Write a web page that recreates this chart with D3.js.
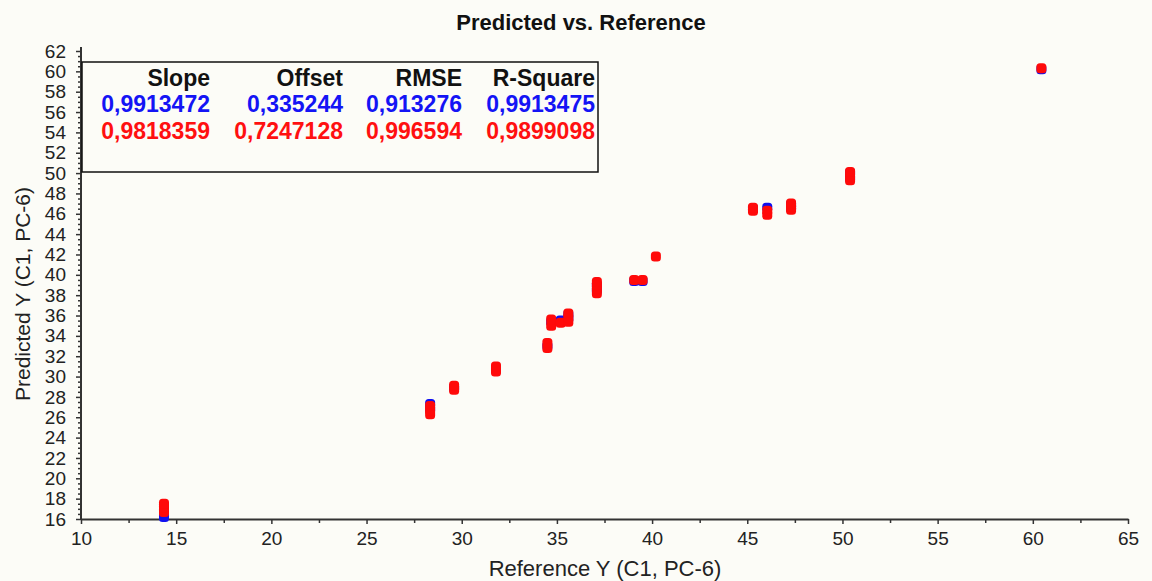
<!DOCTYPE html>
<html>
<head>
<meta charset="utf-8">
<script src="https://cdn.jsdelivr.net/npm/d3@7"></script>
<style>
  html, body { margin: 0; padding: 0; background: #fcfcf7; }
  svg { display: block; font-family: "Liberation Sans", Arial, sans-serif; }
</style>
</head>
<body>
<svg id="chart" width="1152" height="581"></svg>
<script>
// Calibration set (blue): reference vs predicted
const calRef  = [14.36, 14.36, 14.36, 28.34, 28.34, 29.6, 31.8, 34.5, 34.7, 35.2, 35.6, 35.6, 37.1, 37.1, 39.06, 39.5, 45.3, 46.05, 47.3, 47.3, 50.4, 50.4, 60.45];
const calPred = [16.2, 16.8, 17.3, 27.3, 26.8, 28.9, 30.7, 33.0, 35.4, 35.5, 35.7, 36.1, 38.5, 39.0, 39.4, 39.4, 46.5, 46.6, 46.6, 46.9, 49.5, 50.0, 60.2];

// Validation set (red)
const valRef  = [14.36, 14.36, 14.36, 28.34, 28.34, 28.34, 29.6, 29.6, 31.8, 31.8, 34.5, 34.5, 34.7, 34.7, 35.2, 35.6, 35.6, 35.6, 37.1, 37.1, 37.1, 37.1, 39.06, 39.5, 40.2, 45.3, 45.3, 46.05, 46.05, 47.3, 47.3, 47.3, 50.4, 50.4, 50.4, 60.45];
const valPred = [16.7, 17.1, 17.5, 26.3, 26.7, 27.1, 28.7, 29.1, 30.5, 31.0, 32.8, 33.3, 35.0, 35.6, 35.3, 35.4, 35.8, 36.2, 38.2, 38.6, 39.0, 39.3, 39.5, 39.5, 41.8, 46.3, 46.6, 45.9, 46.3, 46.4, 46.7, 47.0, 49.3, 49.7, 50.1, 60.3];

// Statistics table
const statHeaders = ["Slope", "Offset", "RMSE", "R-Square"];
const calStats = ["0,9913472", "0,335244", "0,913276", "0,9913475"];
const valStats = ["0,9818359", "0,7247128", "0,996594", "0,9899098"];

const xMajor = d3.range(10, 65.01, 5);
const xMinor = d3.range(12.5, 65, 5);
const yMajor = d3.range(16, 62.01, 2);
const yMinor = d3.range(16, 62.01, 0.5).filter(v => v % 2 !== 0);

const svg = d3.select("#chart");

const x = d3.scaleLinear().domain([10, 65]).range([81, 1128]);
const y = d3.scaleLinear().domain([16, 62]).range([519, 51]);

// Title
svg.append("text")
  .attr("x", 581).attr("y", 30)
  .attr("text-anchor", "middle")
  .attr("font-size", 22).attr("font-weight", "bold")
  .attr("fill", "#111")
  .text("Predicted vs. Reference");

// Y axis: minor then major
svg.append("g").attr("transform", `translate(${x(10)},0)`)
  .call(d3.axisLeft(y).tickValues(yMinor).tickSize(3).tickFormat(""))
  .call(g => g.select(".domain").remove())
  .call(g => g.selectAll("line").attr("stroke", "#333").attr("stroke-width", 1.5));

const yAxis = svg.append("g").attr("transform", `translate(${x(10)},0)`)
  .call(d3.axisLeft(y).tickValues(yMajor).tickSize(5).tickPadding(10).tickSizeOuter(0).tickFormat(d3.format("d")));
yAxis.select(".domain").attr("stroke", "#333").attr("stroke-width", 2)
  .attr("d", `M0,${y(16)}V${y(62) - 4}`);
yAxis.selectAll("line").attr("stroke", "#333").attr("stroke-width", 1.5);
yAxis.selectAll("text").attr("font-size", 19).attr("fill", "#222")
  .attr("font-family", "Liberation Sans, Arial, sans-serif");

// X axis
svg.append("g").attr("transform", `translate(0,${y(16)})`)
  .call(d3.axisBottom(x).tickValues(xMinor).tickSize(4).tickFormat(""))
  .call(g => g.select(".domain").remove())
  .call(g => g.selectAll("line").attr("stroke", "#333").attr("stroke-width", 1.5));

const xAxis = svg.append("g").attr("transform", `translate(0,${y(16)})`)
  .call(d3.axisBottom(x).tickValues(xMajor).tickSize(5).tickPadding(8).tickSizeOuter(0).tickFormat(d3.format("d")));
xAxis.select(".domain").attr("stroke", "#333").attr("stroke-width", 2);
xAxis.selectAll("line").attr("stroke", "#333").attr("stroke-width", 1.5);
xAxis.selectAll("text").attr("font-size", 19).attr("fill", "#222")
  .attr("font-family", "Liberation Sans, Arial, sans-serif");

// Axis titles
svg.append("text")
  .attr("x", 605).attr("y", 576)
  .attr("text-anchor", "middle")
  .attr("font-size", 22).attr("fill", "#222")
  .text("Reference Y (C1, PC-6)");

svg.append("text")
  .attr("transform", "translate(30,294) rotate(-90)")
  .attr("text-anchor", "middle")
  .attr("font-size", 21).attr("fill", "#222")
  .text("Predicted Y (C1, PC-6)");

// Points
const calData = calRef.map((r, i) => ({ r, p: calPred[i] }));
const valData = valRef.map((r, i) => ({ r, p: valPred[i] }));
const ms = 10;

svg.append("g").selectAll("rect").data(calData).join("rect")
  .attr("x", d => x(d.r) - ms / 2).attr("y", d => y(d.p) - ms / 2)
  .attr("width", ms).attr("height", ms).attr("rx", 3.5)
  .attr("fill", "#1010f0");

svg.append("g").selectAll("rect").data(valData).join("rect")
  .attr("x", d => x(d.r) - ms / 2).attr("y", d => y(d.p) - ms / 2)
  .attr("width", ms).attr("height", ms).attr("rx", 3.5)
  .attr("fill", "#ff0a0a");

// Statistics box
svg.append("rect")
  .attr("x", 82).attr("y", 62).attr("width", 516).attr("height", 110)
  .attr("fill", "#fcfcf7").attr("stroke", "#111").attr("stroke-width", 1.5);

const colRight = [210, 343, 462, 595];
const tbl = svg.append("g").attr("font-size", 23).attr("font-weight", "bold").attr("text-anchor", "end");
tbl.selectAll("text.h").data(statHeaders).join("text").attr("class", "h")
  .attr("x", (d, i) => colRight[i]).attr("y", 86).attr("fill", "#111").text(d => d);
tbl.selectAll("text.c").data(calStats).join("text").attr("class", "c")
  .attr("x", (d, i) => colRight[i]).attr("y", 112).attr("fill", "#1414f5").text(d => d);
tbl.selectAll("text.v").data(valStats).join("text").attr("class", "v")
  .attr("x", (d, i) => colRight[i]).attr("y", 139).attr("fill", "#ff1010").text(d => d);
</script>
</body>
</html>
